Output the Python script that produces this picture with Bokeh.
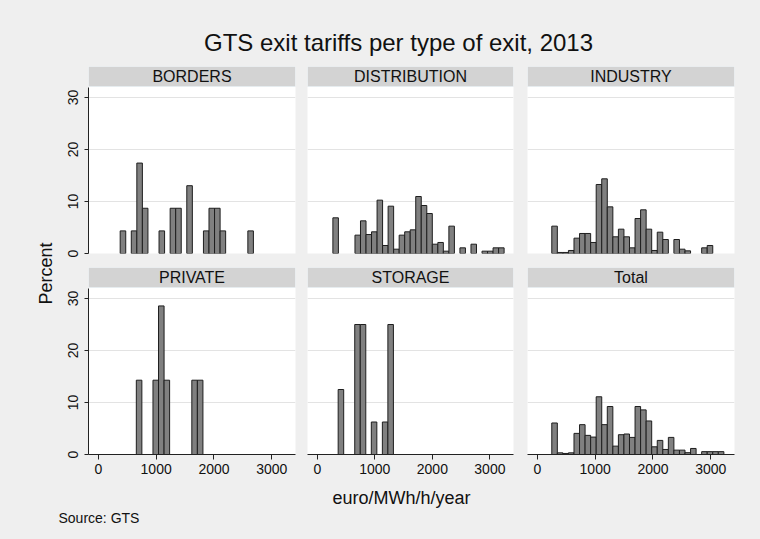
import math
from bokeh.plotting import figure
from bokeh.models import Range1d, LinearAxis, Grid, FixedTicker, ColumnDataSource
from bokeh.layouts import column, row
from bokeh.embed import file_html
from bokeh.resources import INLINE
from bokeh.core.properties import value

# ---------------- data ----------------
TITLE = "GTS exit tariffs per type of exit, 2013"
X_LABEL = "euro/MWh/h/year"
Y_LABEL = "Percent"
SOURCE = "Source: GTS"

panel_names = ["BORDERS", "DISTRIBUTION", "INDUSTRY", "PRIVATE", "STORAGE", "Total"]
x_ticks = [0, 1000, 2000, 3000]
y_ticks = [0, 10, 20, 30]

bin_width = 96  # euro/MWh/h/year

# first bin edge of every panel
bin_start = {
    "BORDERS": 378,
    "DISTRIBUTION": 271,
    "INDUSTRY": 250,
    "PRIVATE": 657,
    "STORAGE": 363,
    "Total": 250,
}

# percent per bin (consecutive bins from bin_start)
borders_pct = [4.35, 0, 4.35, 17.39, 8.70, 0, 0, 4.35, 0, 8.70, 8.70, 0,
               13.04, 0, 0, 4.35, 8.70, 8.70, 4.35, 0, 0, 0, 0, 4.35]
distribution_pct = [6.86, 0, 0, 0, 3.53, 6.28, 3.65, 4.17, 10.26, 1.54, 9.10,
                    0.83, 3.53, 4.17, 4.55, 10.96, 9.23, 7.69, 1.79, 2.12, 0.45,
                    5.26, 0, 1.09, 0, 1.79, 0, 0.45, 0.45, 1.09, 1.09]
industry_pct = [5.26, 0.2, 0.2, 0.58, 2.95, 3.85, 3.85, 2.12, 13.27, 14.36, 8.97,
                3.21, 4.68, 3.21, 1.09, 6.73, 8.40, 4.68, 0.58, 4.10, 2.69, 0,
                2.69, 0.83, 0.51, 0, 0, 1.09, 1.54]
private_pct = [14.29, 0, 0, 14.29, 28.57, 14.29, 0, 0, 0, 0, 14.29, 14.29]
storage_pct = [12.5, 0, 0, 25.0, 25.0, 0, 6.25, 0, 6.25, 25.0]
total_pct = [6.06, 0.32, 0.2, 0.32, 4.06, 5.74, 3.68, 3.35, 11.1, 5.74, 9.23,
             1.61, 3.81, 3.94, 3.29, 9.23, 8.58, 6.45, 1.48, 2.71, 0.97, 3.29,
             0.84, 0.84, 0.35, 1.16, 0, 0.55, 0.55, 0.55, 0.55]

panel_pct = {
    "BORDERS": borders_pct,
    "DISTRIBUTION": distribution_pct,
    "INDUSTRY": industry_pct,
    "PRIVATE": private_pct,
    "STORAGE": storage_pct,
    "Total": total_pct,
}

# ---------------- style ----------------
FONT = "Liberation Sans"
BG = "#efefef"
STRIP = "#d3d3d3"
GRID = "#e3e3e3"
BAR_FILL = "#808080"
BAR_LINE = "#1e1e1e"
TXT = "#111111"
BGSTYLE = {"background-color": BG}

X0, X1 = -170, 3410
PX_PER_PCT = 5.2
FRAME_H = 187
Y1 = FRAME_H / PX_PER_PCT
STRIP_H = 20
PLOT_TOP = 32.0

col_geom = [  # width, left border, right border
    (245, 32, 6),
    (219, 6, 7),
    (240, 7, 26),
]
row_geom = [  # height, top border, bottom border
    (200, 4, 9),
    (220, 5, 28),
]


def blank_fig(w, h):
    p = figure(width=w, height=h, x_range=Range1d(0, w), y_range=Range1d(0, h),
               x_axis_type=None, y_axis_type=None, toolbar_location=None,
               output_backend="svg", title=None,
               min_border_left=0, min_border_right=0, min_border_top=0, min_border_bottom=0,
               background_fill_color=BG, border_fill_color=BG, outline_line_color=None,
               styles=BGSTYLE)
    return p


def panel(name, ci, ri):
    w, bl, br = col_geom[ci]
    h, bt, bb = row_geom[ri]
    p = figure(width=w, height=h, x_range=Range1d(X0, X1), y_range=Range1d(0, Y1),
               x_axis_type=None, y_axis_type=None, toolbar_location=None,
               output_backend="svg", title=None,
               min_border_left=bl, min_border_right=br, min_border_top=bt, min_border_bottom=bb,
               background_fill_color="white", border_fill_color=BG, outline_line_color=None,
               styles=BGSTYLE)
    grid = Grid(dimension=1, ticker=FixedTicker(ticks=y_ticks),
                grid_line_color=GRID, grid_line_width=1)
    p.add_layout(grid)

    pct = panel_pct[name]
    start = bin_start[name]
    lefts, rights, tops = [], [], []
    for i, v in enumerate(pct):
        if v > 0:
            lefts.append(start + i * bin_width)
            rights.append(start + (i + 1) * bin_width)
            tops.append(v)
    src = ColumnDataSource(dict(left=lefts, right=rights, top=tops, bottom=[0] * len(tops)))
    p.quad(left="left", right="right", top="top", bottom="bottom", source=src,
           fill_color=BAR_FILL, line_color=BAR_LINE, line_width=1)

    # strip header
    strip_bottom = Y1 - STRIP_H / PX_PER_PCT
    p.quad(left=[X0], right=[X1], bottom=[strip_bottom], top=[Y1],
           fill_color=STRIP, line_color="#e6ecef", line_width=1)
    p.text(x=[(X0 + X1) / 2], y=[(strip_bottom + Y1) / 2], text=[name],
           text_font=value(FONT), text_font_size="16px", text_align="center",
           text_baseline="middle", text_color=TXT)

    if ci == 0:
        ax = LinearAxis(ticker=FixedTicker(ticks=y_ticks), bounds=(0, PLOT_TOP))
        ax.major_label_orientation = "vertical"
        ax.major_tick_out = 4
        ax.major_tick_in = 0
        ax.minor_tick_out = 0
        ax.minor_tick_in = 0
        ax.major_label_standoff = 7
        ax.major_label_text_font = FONT
        ax.major_label_text_font_size = "14px"
        ax.major_label_text_color = TXT
        ax.axis_line_color = "#222222"
        ax.major_tick_line_color = "#222222"
        p.add_layout(ax, "left")
    if ri == 1:
        ax = LinearAxis(ticker=FixedTicker(ticks=x_ticks))
        ax.major_tick_out = 5
        ax.major_tick_in = 0
        ax.minor_tick_out = 0
        ax.minor_tick_in = 0
        ax.major_label_standoff = 4
        ax.major_label_text_font = FONT
        ax.major_label_text_font_size = "14px"
        ax.major_label_text_color = TXT
        ax.axis_line_color = "#222222"
        ax.major_tick_line_color = "#222222"
        p.add_layout(ax, "below")
    return p


# title
title_fig = blank_fig(760, 62)
title_fig.text(x=[398], y=[62 - 42], text=[TITLE], text_font=value(FONT),
               text_font_size="24px", text_align="center", text_baseline="middle",
               text_color=TXT)

# y label
left_fig = blank_fig(56, 420)
left_fig.text(x=[45], y=[420 - 211], text=[Y_LABEL], text_font=value(FONT),
              text_font_size="18px", text_align="center", text_baseline="middle",
              angle=math.pi / 2, text_color=TXT)

# bottom: x label + source
bottom_fig = blank_fig(760, 57)
bottom_fig.text(x=[401], y=[57 - 15], text=[X_LABEL], text_font=value(FONT),
                text_font_size="18px", text_align="center", text_baseline="middle",
                text_color=TXT)
bottom_fig.text(x=[58], y=[57 - 35], text=[SOURCE], text_font=value(FONT),
                text_font_size="14px", text_align="left", text_baseline="middle",
                text_color=TXT)

top_row = row([panel(panel_names[i], i, 0) for i in range(3)], spacing=0, styles=BGSTYLE)
bot_row = row([panel(panel_names[3 + i], i, 1) for i in range(3)], spacing=0, styles=BGSTYLE)
mid = row([left_fig, column([top_row, bot_row], spacing=0, styles=BGSTYLE)],
          spacing=0, styles=BGSTYLE)
layout = column([title_fig, mid, bottom_fig], spacing=0, styles=BGSTYLE)

open("out.html", "w").write(file_html(layout, INLINE, title="GTS exit tariffs"))
